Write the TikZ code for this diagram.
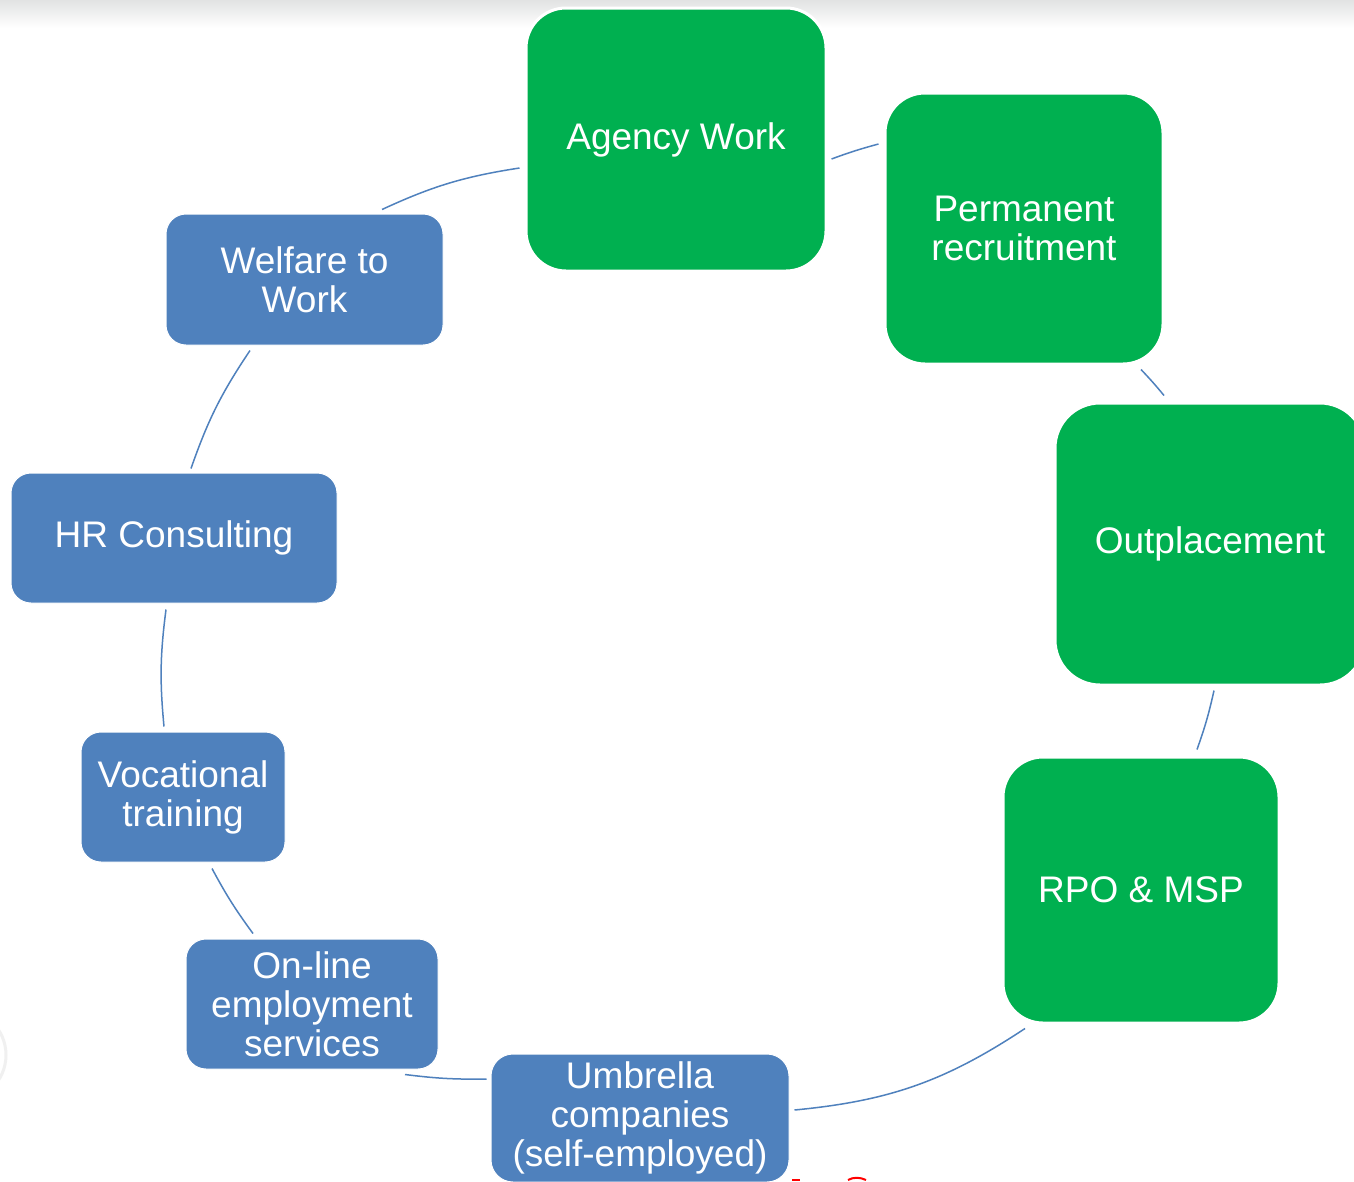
\documentclass[tikz,border=0pt]{standalone}
\usepackage{fontspec}
\setmainfont{Liberation Sans}
\usetikzlibrary{calc}
\definecolor{boxgreen}{RGB}{0,176,80}
\definecolor{boxblue}{RGB}{79,129,189}
\definecolor{topgray}{RGB}{226,227,227}
\tikzset{
  gbox/.style={draw=white, line width=3pt, fill=boxgreen, text=white, rounded corners=40pt,
    align=center, inner sep=0pt, font=\fontsize{37}{39}\selectfont},
  bbox/.style={draw=white, line width=1pt, fill=boxblue, text=white, rounded corners=20pt,
    align=center, inner sep=0pt, font=\fontsize{37}{39}\selectfont},
  conn/.style={draw=boxblue, line width=1.5pt}
}
\begin{document}
\begin{tikzpicture}[x=1pt,y=-1pt]
\useasboundingbox (0,0) rectangle (1354,1181);
\clip (0,0) rectangle (1354,1181);
\fill[white] (0,0) rectangle (1354,1181);
\shade[top color=topgray, bottom color=white] (0,0) rectangle (1354,28);
\draw[gray!12, line width=3pt] (-40,1055) circle[radius=46];
% nodes
\node[gbox, minimum width=300pt, minimum height=263pt] (agency) at (676,139.5) {Agency Work};
\node[gbox, minimum width=278pt, minimum height=271pt] (perm) at (1024,228.5) {Permanent\\recruitment};
\node[gbox, rounded corners=45pt, minimum width=310pt, minimum height=282pt] (outp) at (1210,544) {Outplacement};
\node[gbox, minimum width=276pt, minimum height=266pt] (rpo) at (1141,890) {RPO \& MSP};
\node[bbox, rounded corners=22pt, minimum width=298pt, minimum height=128pt] (umb) at (640,1118) {Umbrella\\companies\\(self-employed)};
\node[bbox, minimum width=252pt, minimum height=130pt] (online) at (312,1004) {On-line\\employment\\services};
\node[bbox, minimum width=204pt, minimum height=130pt] (voc) at (183,797) {Vocational\\training};
\node[bbox, minimum width=326pt, minimum height=130pt] (hr) at (174,538) {HR Consulting};
\node[bbox, minimum width=277pt, minimum height=131pt] (welf) at (304.5,279.5) {Welfare to\\Work};
% connector end points
\coordinate (c1a) at ($(welf.north)+(77.5,-4)$);
\coordinate (c1b) at ($(agency.west)+(-5,28.5)$);
\coordinate (c2a) at ($(agency.east)+(4,19.5)$);
\coordinate (c2b) at ($(perm.west)+(-5,-84.5)$);
\coordinate (c3a) at ($(perm.south)+(117,4)$);
\coordinate (c3b) at ($(outp.north)+(-46,-6)$);
\coordinate (c4a) at ($(outp.south)+(4,4)$);
\coordinate (c4b) at ($(rpo.north)+(56,-6)$);
\coordinate (c5a) at ($(rpo.south)+(-116,4)$);
\coordinate (c5b) at ($(umb.east)+(5,-8)$);
\coordinate (c6a) at ($(umb.west)+(-4,-39)$);
\coordinate (c6b) at ($(online.south)+(93,5)$);
\coordinate (c7a) at ($(online.north)+(-59,-5)$);
\coordinate (c7b) at ($(voc.south)+(29,6)$);
\coordinate (c8a) at ($(voc.north)+(-19,-5)$);
\coordinate (c8b) at ($(hr.south)+(-8,6)$);
\coordinate (c9a) at ($(hr.north)+(17,-4)$);
\coordinate (c9b) at ($(welf.south)+(-54.5,5)$);
% connectors
\draw[conn] (c1a) to[bend left=8] (c1b);
\draw[conn] (c2a) to[bend left=2.5] (c2b);
\draw[conn] (c3a) to[bend left=2] (c3b);
\draw[conn] (c4a) to[bend left=3.5] (c4b);
\draw[conn] (c5a) to[bend left=14] (c5b);
\draw[conn] (c6a) to[bend left=4] (c6b);
\draw[conn] (c7a) to[bend left=4] (c7b);
\draw[conn] (c8a) to[bend left=6.4] (c8b);
\draw[conn] (c9a) to[bend left=7.3] (c9b);
% red fragments at bottom edge
\draw[red, line width=2pt] (792,1180) -- (800,1180);
\draw[red, line width=2pt] (848,1180) .. controls (853,1177) and (860,1177) .. (866,1180);
\end{tikzpicture}
\end{document}
